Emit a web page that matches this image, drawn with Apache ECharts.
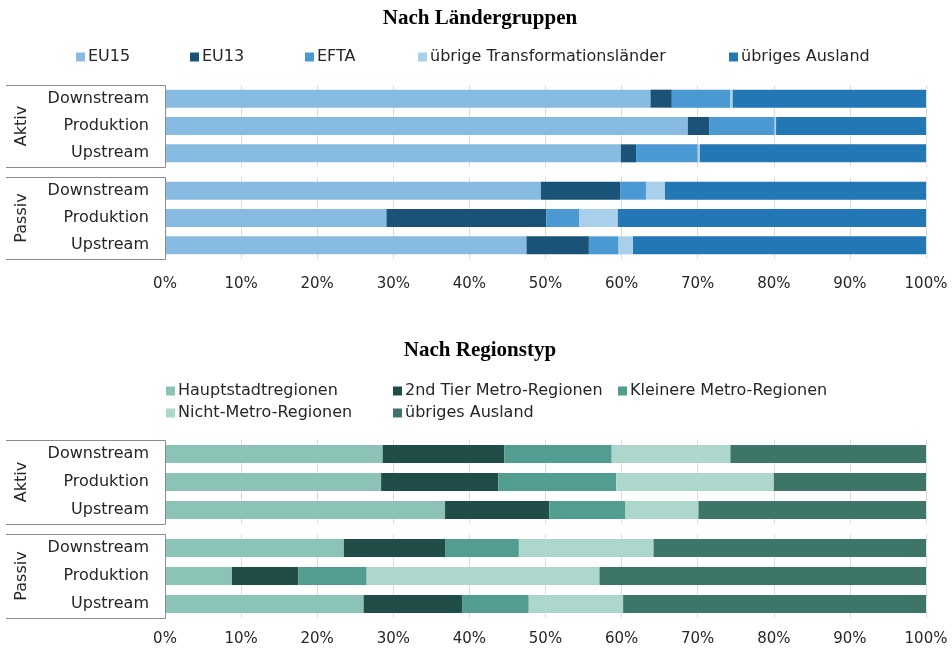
<!DOCTYPE html>
<html>
<head>
<meta charset="utf-8">
<title>Nach Ländergruppen / Nach Regionstyp</title>
<script src="https://cdn.jsdelivr.net/npm/echarts@6/dist/echarts.min.js"></script>
<style>
  html, body { margin: 0; padding: 0; background: #ffffff; }
  #chart { width: 952px; height: 650px; }
</style>
</head>
<body>
<div id="chart"></div>
<script>
// Row labels of each block and the two block labels
const rows = ['Downstream', 'Produktion', 'Upstream'];
const groups = ['Aktiv', 'Passiv'];

// Shares in % — order: Aktiv (Downstream, Produktion, Upstream), Passiv (Downstream, Produktion, Upstream)
// Chart 1: Nach Ländergruppen
const eu15 = [63.8, 68.7, 59.9, 49.4, 29.1, 47.5];
const eu13 = [2.8, 2.8, 2.0, 10.4, 21.0, 8.2];
const efta = [7.7, 8.6, 8.1, 3.4, 4.3, 3.9];
const transformation = [0.3, 0.2, 0.3, 2.5, 5.1, 1.9];
const auslandLaender = [25.4, 19.7, 29.7, 34.3, 40.5, 38.5];

// Chart 2: Nach Regionstyp
const hauptstadt = [28.6, 28.4, 36.8, 23.5, 8.8, 26.1];
const tier2 = [16.0, 15.4, 13.7, 13.3, 8.7, 13.0];
const kleinere = [14.1, 15.5, 10.0, 9.7, 9.0, 8.7];
const nichtMetro = [15.6, 20.7, 9.6, 17.7, 30.6, 12.4];
const auslandRegion = [25.7, 20.0, 29.9, 35.8, 42.9, 39.8];

// Axis ticks
const xTicks = [0, 10, 20, 30, 40, 50, 60, 70, 80, 90, 100];

const FONT = 'DejaVu Sans';
const TEXT = '#262626';

const charts = [
  {
    title: 'Nach Ländergruppen',
    series: [
      { name: 'EU15', values: eu15, color: '#88bbe2' },
      { name: 'EU13', values: eu13, color: '#1b5378' },
      { name: 'EFTA', values: efta, color: '#4a99d3' },
      { name: 'übrige Transformationsländer', values: transformation, color: '#a8d0ea' },
      { name: 'übriges Ausland', values: auslandLaender, color: '#2377b5' }
    ],
    titleTop: 3,
    grids: [{ top: 85, height: 82 }, { top: 177, height: 82 }],
    labelMargin: 18,
    legend: [
      { left: 76, top: 47 }, { left: 190, top: 47 }, { left: 305, top: 47 },
      { left: 418, top: 47 }, { left: 729, top: 47 }
    ]
  },
  {
    title: 'Nach Regionstyp',
    series: [
      { name: 'Hauptstadtregionen', values: hauptstadt, color: '#8bc4b6' },
      { name: '2nd Tier Metro-Regionen', values: tier2, color: '#204d47' },
      { name: 'Kleinere Metro-Regionen', values: kleinere, color: '#519d8f' },
      { name: 'Nicht-Metro-Regionen', values: nichtMetro, color: '#add6cd' },
      { name: 'übriges Ausland', values: auslandRegion, color: '#3d7569' }
    ],
    titleTop: 335,
    grids: [{ top: 440, height: 84 }, { top: 534, height: 84 }],
    labelMargin: 14,
    legend: [
      { left: 166, top: 381 }, { left: 393, top: 381 }, { left: 618, top: 381 },
      { left: 166, top: 403 }, { left: 393, top: 403 }
    ]
  }
];

const option = {
  backgroundColor: '#ffffff',
  animation: false,
  title: [],
  legend: [],
  grid: [],
  xAxis: [],
  yAxis: [],
  series: [],
  graphic: []
};

charts.forEach((chart, c) => {
  option.title.push({
    text: chart.title,
    left: 475,
    top: chart.titleTop,
    textAlign: 'center',
    textStyle: { fontFamily: 'Liberation Serif', fontWeight: 'bold', fontSize: 21, color: '#000' }
  });

  chart.series.forEach((s, i) => {
    option.legend.push({
      left: chart.legend[i].left,
      top: chart.legend[i].top,
      padding: 0,
      icon: 'rect',
      itemWidth: 9,
      itemHeight: 9,
      selectedMode: false,
      data: [{ name: s.name, itemStyle: { color: s.color } }],
      textStyle: { fontFamily: FONT, fontSize: 16, color: TEXT, lineHeight: 20, padding: [0, 0, 0, -2] }
    });
  });

  groups.forEach((g, gi) => {
    const idx = option.grid.length;
    const gr = chart.grids[gi];
    option.grid.push({ left: 165, right: 26, top: gr.top, height: gr.height });

    const showLabels = gi === groups.length - 1;
    option.xAxis.push({
      type: 'value',
      gridIndex: idx,
      min: xTicks[0],
      max: xTicks[xTicks.length - 1],
      interval: xTicks[1] - xTicks[0],
      axisLine: { show: false },
      axisTick: { show: false },
      splitLine: { show: true, lineStyle: { color: '#dcdcdc', width: 1 } },
      axisLabel: {
        show: showLabels,
        margin: chart.labelMargin,
        formatter: '{value}%',
        fontFamily: FONT,
        fontSize: 15,
        color: TEXT
      }
    });

    option.yAxis.push({
      type: 'category',
      gridIndex: idx,
      data: rows,
      inverse: true,
      name: g,
      nameLocation: 'middle',
      nameRotate: 90,
      nameGap: 135,
      nameTextStyle: { fontFamily: FONT, fontSize: 16, color: TEXT },
      axisLine: { show: false },
      axisTick: { show: false },
      splitLine: { show: false },
      axisLabel: { margin: 16, fontFamily: FONT, fontSize: 16, color: TEXT }
    });

    chart.series.forEach((s) => {
      option.series.push({
        type: 'bar',
        name: s.name,
        xAxisIndex: idx,
        yAxisIndex: idx,
        stack: 'block' + idx,
        barWidth: 18,
        itemStyle: { color: s.color },
        data: s.values.slice(gi * rows.length, (gi + 1) * rows.length)
      });
    });

    // Bracket framing each block of rows
    option.graphic.push({
      type: 'polyline',
      shape: {
        points: [[6, gr.top + 0.5], [165.5, gr.top + 0.5], [165.5, gr.top + gr.height + 0.5], [6, gr.top + gr.height + 0.5]]
      },
      style: { stroke: '#8c8c8c', lineWidth: 1, fill: null },
      z: 10
    });
  });
});

const myChart = echarts.init(document.getElementById('chart'), null, { renderer: 'canvas' });
myChart.setOption(option);
</script>
</body>
</html>
